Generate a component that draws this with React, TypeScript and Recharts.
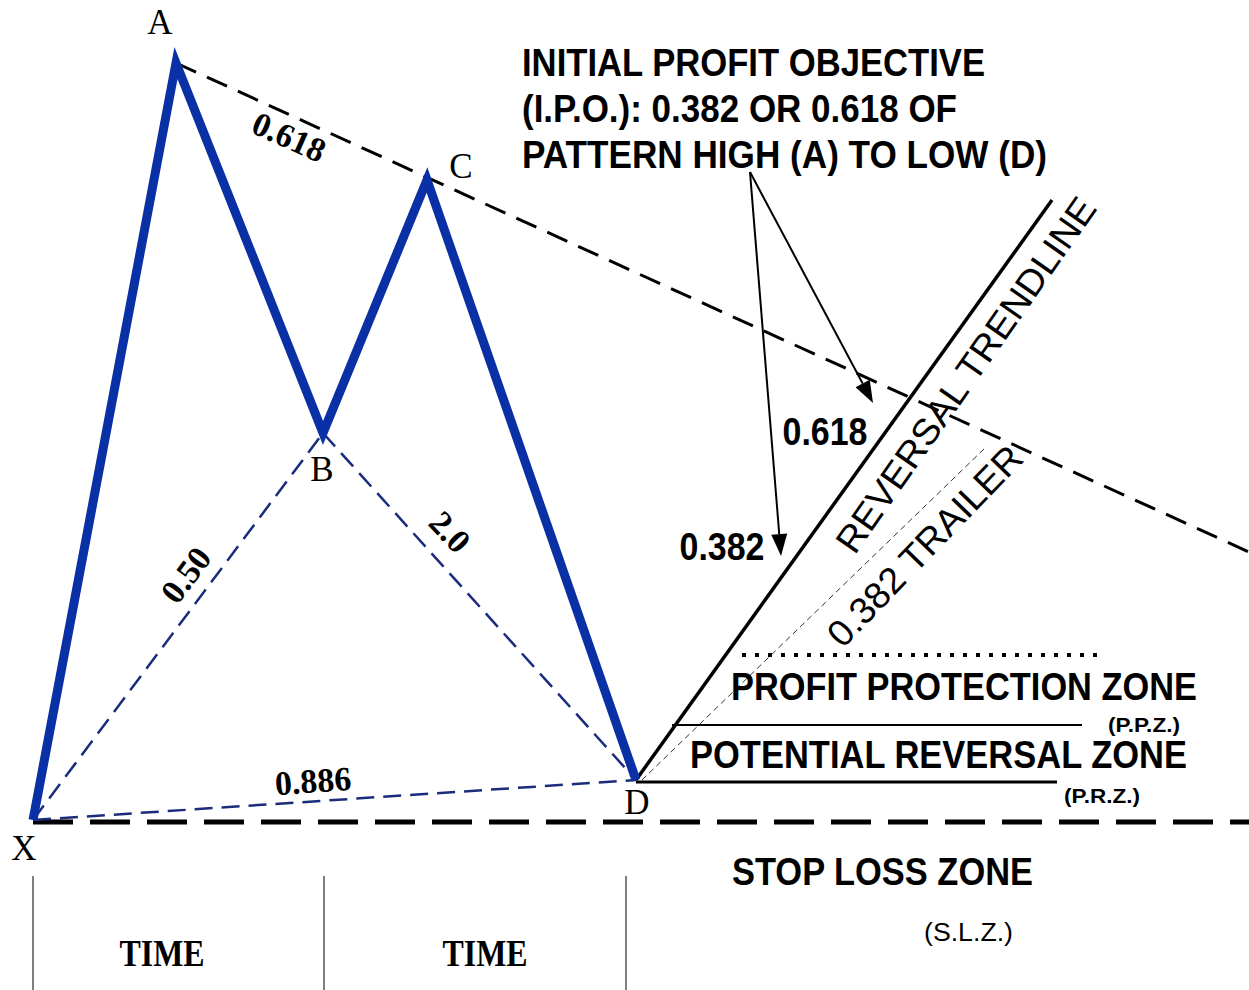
import {
  ComposedChart,
  Line,
  ReferenceDot,
  ReferenceLine,
  XAxis,
  YAxis,
} from 'recharts'

// time runs left → right, price runs bottom → top
const PATTERN_NAMES = ['X', 'A', 'B', 'C', 'D']
const PATTERN_T = [33, 176, 323, 427, 636]
const PATTERN_P = [170, 927, 557, 810, 210]

// dashed navy ratio legs: XB, BD, XD
const LEG_FROM = [0, 2, 0]
const LEG_TO = [2, 4, 4]

// A–C line, extended to the right edge
const AC_END_T = 1249
const AC_END_P = 438

// reversal trendline and its 0.382 trailer, both leaving D
const TREND_END = { t: 1052, p: 790 }
const TRAILER_START = { t: 642, p: 210 }
const TRAILER_END = { t: 985, p: 542 }

// zone levels (price) and where each line ends
const PPZ_TOP_P = 335
const PPZ_TOP_T = [742, 1105]
const PPZ_P = 265
const PPZ_T = [672, 1082]
const PRZ_P = 208
const PRZ_T = [636, 1057]
const SLZ_P = 168
const SLZ_T = [33, 1249]

// time separators
const TIME_T = [33, 324, 626]
const TIME_P = [0, 114]

// I.P.O. arrows
const ARROW_FROM = { t: 750, p: 818 }
const ARROW_TO_T = [781, 873]
const ARROW_TO_P = [434, 587]

// labels
const VERTEX_LABELS = ['A', 'B', 'C', 'D', 'X']
const VERTEX_LABEL_T = [160, 322, 461, 637, 24]
const VERTEX_LABEL_P = [968, 521, 824, 188, 142]

const LEG_RATIOS = ['0.618', '0.50', '2.0', '0.886']
const LEG_RATIO_T = [289, 186, 450, 313]
const LEG_RATIO_P = [853, 415, 458, 209]
const LEG_RATIO_ANGLE = [24, -53, 47, -4]

const IPO_RATIOS = ['0.618', '0.382']
const IPO_RATIO_T = [825, 722]
const IPO_RATIO_P = [558, 443]

const NOTES = [
  'INITIAL PROFIT OBJECTIVE',
  '(I.P.O.): 0.382 OR 0.618 OF',
  'PATTERN HIGH (A) TO LOW (D)',
  'PROFIT PROTECTION ZONE',
  'POTENTIAL REVERSAL ZONE',
  'STOP LOSS ZONE',
]
const NOTE_T = [522, 522, 522, 731, 690, 732]
const NOTE_P = [914, 868, 822, 290, 222, 105]
const NOTE_WIDTH = [463, 435, 525, 466, 497, 301]

const ABBREVS = ['(P.P.Z.)', '(P.R.Z.)', '(S.L.Z.)']
const ABBREV_T = [1108, 1064, 924]
const ABBREV_P = [258, 187, 49]
const ABBREV_WIDTH = [72, 76, 89]
const ABBREV_SIZE = [21, 21, 25]

const SLANTED = ['REVERSAL TRENDLINE', '0.382 TRAILER']
const SLANTED_T = [966, 925]
const SLANTED_P = [615, 444]
const SLANTED_ANGLE = [-55, -46]
const SLANTED_WIDTH = [424, 263]

const TIME_LABEL_T = [162, 485]
const TIME_LABEL_P = 24

const BLUE = '#0a30a6'
const NAVY = '#1b2c7c'
const SERIF = '"Liberation Serif", "Times New Roman", serif'
const SANS = '"Liberation Sans", Arial, sans-serif'

const patternData = PATTERN_T.map((t, i) => ({ name: PATTERN_NAMES[i], t, p: PATTERN_P[i] }))

function arrowShape(props: { x1: number; y1: number; x2: number; y2: number }) {
  const { x1, y1, x2, y2 } = props
  const a = Math.atan2(y2 - y1, x2 - x1)
  const len = 22
  const half = 8
  const bx = x2 - len * Math.cos(a)
  const by = y2 - len * Math.sin(a)
  const px = half * Math.sin(a)
  const py = half * Math.cos(a)
  return (
    <g>
      <line x1={x1} y1={y1} x2={bx} y2={by} stroke="#000" strokeWidth={2} />
      <polygon points={`${x2},${y2} ${bx + px},${by - py} ${bx - px},${by + py}`} fill="#000" />
    </g>
  )
}

function textShape(
  text: string,
  opts: {
    family: string
    size: number
    weight?: number | string
    anchor?: 'start' | 'middle'
    angle?: number
    width?: number
    central?: boolean
  },
) {
  return (props: { cx: number; cy: number }) => (
    <text
      x={props.cx}
      y={props.cy}
      fontFamily={opts.family}
      fontSize={opts.size}
      fontWeight={opts.weight ?? 'normal'}
      textAnchor={opts.anchor ?? 'middle'}
      dominantBaseline={opts.central ? 'central' : 'auto'}
      fill="#000"
      textLength={opts.width}
      lengthAdjust={opts.width ? 'spacingAndGlyphs' : undefined}
      transform={opts.angle ? `rotate(${opts.angle} ${props.cx} ${props.cy})` : undefined}
    >
      {text}
    </text>
  )
}

export default function App() {
  return (
    <div style={{ position: 'absolute', left: 0, top: 0, background: '#fff' }}>
      <ComposedChart width={1249} height={990} margin={{ top: 0, right: 0, bottom: 0, left: 0 }}>
        <XAxis type="number" dataKey="t" domain={[0, 1249]} hide allowDataOverflow />
        <YAxis type="number" domain={[0, 990]} hide allowDataOverflow />

        {/* time separators */}
        {TIME_T.map((t) => (
          <ReferenceLine
            key={`time-${t}`}
            segment={[{ x: t, y: TIME_P[0] }, { x: t, y: TIME_P[1] }]}
            stroke="#555"
            strokeWidth={1.5}
          />
        ))}

        {/* stop loss level */}
        <ReferenceLine
          segment={[{ x: SLZ_T[0], y: SLZ_P }, { x: SLZ_T[1], y: SLZ_P }]}
          stroke="#000"
          strokeWidth={5}
          strokeDasharray="40 17"
        />

        {/* ratio legs */}
        {LEG_FROM.map((f, i) => (
          <ReferenceLine
            key={`leg-${i}`}
            segment={[
              { x: PATTERN_T[f], y: PATTERN_P[f] },
              { x: PATTERN_T[LEG_TO[i]], y: PATTERN_P[LEG_TO[i]] },
            ]}
            stroke={NAVY}
            strokeWidth={2.5}
            strokeDasharray="18 9"
          />
        ))}

        {/* A–C line */}
        <ReferenceLine
          segment={[{ x: PATTERN_T[1], y: PATTERN_P[1] }, { x: AC_END_T, y: AC_END_P }]}
          stroke="#000"
          strokeWidth={3}
          strokeDasharray="22 12"
        />

        {/* zones */}
        <ReferenceLine
          segment={[{ x: PPZ_TOP_T[0], y: PPZ_TOP_P }, { x: PPZ_TOP_T[1], y: PPZ_TOP_P }]}
          stroke="#000"
          strokeWidth={4}
          strokeDasharray="4 9"
        />
        <ReferenceLine
          segment={[{ x: PPZ_T[0], y: PPZ_P }, { x: PPZ_T[1], y: PPZ_P }]}
          stroke="#000"
          strokeWidth={1.8}
        />
        <ReferenceLine
          segment={[{ x: PRZ_T[0], y: PRZ_P }, { x: PRZ_T[1], y: PRZ_P }]}
          stroke="#000"
          strokeWidth={3}
        />

        {/* reversal trendline + trailer */}
        <ReferenceLine
          segment={[{ x: TRAILER_START.t, y: TRAILER_START.p }, { x: TRAILER_END.t, y: TRAILER_END.p }]}
          stroke="#333"
          strokeWidth={1}
          strokeDasharray="6 4"
        />
        <ReferenceLine
          segment={[{ x: PATTERN_T[4], y: PATTERN_P[4] }, { x: TREND_END.t, y: TREND_END.p }]}
          stroke="#000"
          strokeWidth={3.5}
        />

        {/* I.P.O. arrows */}
        {ARROW_TO_T.map((t, i) => (
          <ReferenceLine
            key={`arrow-${i}`}
            segment={[{ x: ARROW_FROM.t, y: ARROW_FROM.p }, { x: t, y: ARROW_TO_P[i] }]}
            shape={arrowShape}
          />
        ))}

        {/* the pattern itself */}
        <Line
          data={patternData}
          dataKey="p"
          type="linear"
          stroke={BLUE}
          strokeWidth={9}
          strokeLinejoin="miter"
          dot={false}
          activeDot={false}
          isAnimationActive={false}
        />

        {VERTEX_LABELS.map((s, i) => (
          <ReferenceDot
            key={`v-${s}`}
            x={VERTEX_LABEL_T[i]}
            y={VERTEX_LABEL_P[i]}
            shape={textShape(s, { family: SERIF, size: 35, central: true })}
          />
        ))}

        {LEG_RATIOS.map((s, i) => (
          <ReferenceDot
            key={`r-${i}`}
            x={LEG_RATIO_T[i]}
            y={LEG_RATIO_P[i]}
            shape={textShape(s, {
              family: SERIF,
              size: 34,
              weight: 'bold',
              angle: LEG_RATIO_ANGLE[i],
              central: true,
            })}
          />
        ))}

        {IPO_RATIOS.map((s, i) => (
          <ReferenceDot
            key={`ipo-${i}`}
            x={IPO_RATIO_T[i]}
            y={IPO_RATIO_P[i]}
            shape={textShape(s, { family: SANS, size: 38, weight: 'bold', width: 85, central: true })}
          />
        ))}

        {NOTES.map((s, i) => (
          <ReferenceDot
            key={`n-${i}`}
            x={NOTE_T[i]}
            y={NOTE_P[i]}
            shape={textShape(s, {
              family: SANS,
              size: 38,
              weight: 'bold',
              anchor: 'start',
              width: NOTE_WIDTH[i],
            })}
          />
        ))}

        {ABBREVS.map((s, i) => (
          <ReferenceDot
            key={`ab-${i}`}
            x={ABBREV_T[i]}
            y={ABBREV_P[i]}
            shape={textShape(s, {
              family: SANS,
              size: ABBREV_SIZE[i],
              weight: i < 2 ? 'bold' : 'normal',
              anchor: 'start',
              width: ABBREV_WIDTH[i],
            })}
          />
        ))}

        {SLANTED.map((s, i) => (
          <ReferenceDot
            key={`sl-${i}`}
            x={SLANTED_T[i]}
            y={SLANTED_P[i]}
            shape={textShape(s, {
              family: SANS,
              size: 37,
              angle: SLANTED_ANGLE[i],
              width: SLANTED_WIDTH[i],
              central: true,
            })}
          />
        ))}

        {TIME_LABEL_T.map((t, i) => (
          <ReferenceDot
            key={`tl-${i}`}
            x={t}
            y={TIME_LABEL_P}
            shape={textShape('TIME', { family: SERIF, size: 37, weight: 'bold', width: 85 })}
          />
        ))}
      </ComposedChart>
    </div>
  )
}
